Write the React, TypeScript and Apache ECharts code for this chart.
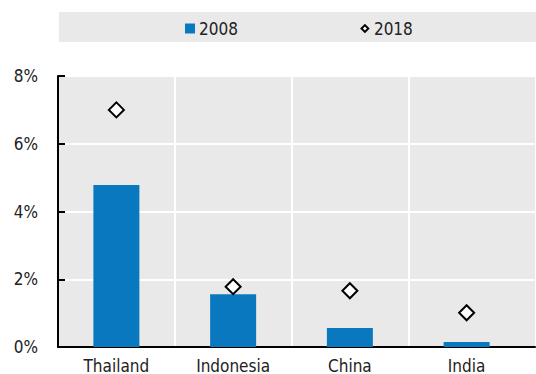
import React, { useEffect, useRef } from "react";
import * as echarts from "echarts";

const categories = ["Thailand", "Indonesia", "China", "India"];
const values2008 = [4.78, 1.56, 0.56, 0.15];
const values2018 = [7.0, 1.78, 1.66, 1.01];
const seriesNames = ["2008", "2018"];

const FONT = "'DejaVu Sans Condensed', 'Liberation Sans Narrow', sans-serif";

export default function App() {
  const ref = useRef<HTMLDivElement>(null);
  useEffect(() => {
    if (!ref.current) return;
    const chart = echarts.init(ref.current, null, { renderer: "svg" });
    chart.setOption({
      animation: false,
      textStyle: { fontFamily: FONT },
      graphic: [
        {
          type: "rect",
          shape: { x: 59, y: 12, width: 480, height: 30 },
          style: { fill: "#e9e9e9" },
          z: -1,
        },
      ],
      legend: {
        top: 15,
        left: 180,
        itemGap: 121,
        itemWidth: 10,
        itemHeight: 10,
        textStyle: { fontFamily: FONT, fontSize: 17, color: "#222", padding: [0, 0, 0, -1] },
        data: [
          { name: seriesNames[0], icon: "rect" },
          {
            name: seriesNames[1],
            icon: "path://M0,0M5,1.6L8.4,5L5,8.4L1.6,5Z M10,10",
            itemStyle: { color: "#fff", borderColor: "#000", borderWidth: 2 },
          },
        ],
      },
      grid: [
        {
          left: 58,
          right: 1,
          top: 76,
          bottom: 27,
          show: true,
          backgroundColor: "#e9e9e9",
          borderWidth: 0,
        },
        {
          left: 58,
          right: 11,
          top: 76,
          bottom: 27,
          show: false,
        },
      ],
      xAxis: [
        {
          gridIndex: 0,
          type: "value",
          min: 0,
          max: 1,
          axisLine: { show: true, lineStyle: { color: "#000", width: 2 } },
          axisTick: { show: false },
          axisLabel: { show: false },
          splitLine: { show: false },
        },
        {
          gridIndex: 1,
          type: "category",
          data: categories,
          axisLine: { show: false },
          axisTick: { show: false },
          axisLabel: { fontFamily: FONT, fontSize: 17, color: "#222", margin: 10 },
          splitLine: { show: true, showMinLine: false, showMaxLine: false, lineStyle: { color: "#fff", width: 2 } },
        },
      ],
      yAxis: [
        {
          gridIndex: 0,
          type: "value",
          min: 0,
          max: 8,
          interval: 2,
          axisLine: { show: true, lineStyle: { color: "#000", width: 2 } },
          axisTick: { show: true, inside: true, length: 7, lineStyle: { color: "#000", width: 2 } },
          axisLabel: { fontFamily: FONT, fontSize: 17, color: "#222", margin: 20, formatter: (v: number) => v + "%" },
          splitLine: { show: true, lineStyle: { color: "#fff", width: 2 } },
        },
        {
          gridIndex: 1,
          type: "value",
          min: 0,
          max: 8,
          interval: 2,
          show: false,
        },
      ],
      series: [
        {
          name: seriesNames[0],
          type: "bar",
          xAxisIndex: 1,
          yAxisIndex: 1,
          data: values2008,
          barWidth: 46,
          itemStyle: { color: "#0a78be" },
          z: 2,
        },
        {
          name: seriesNames[1],
          type: "scatter",
          xAxisIndex: 1,
          yAxisIndex: 1,
          data: values2018,
          symbol: "diamond",
          symbolSize: 15,
          itemStyle: { color: "#fff", borderColor: "#000", borderWidth: 2, opacity: 1 },
          z: 3,
        },
      ],
    });
    return () => chart.dispose();
  }, []);
  return <div ref={ref} style={{ width: 536, height: 374, position: "absolute", left: 0, top: 0 }} />;
}
